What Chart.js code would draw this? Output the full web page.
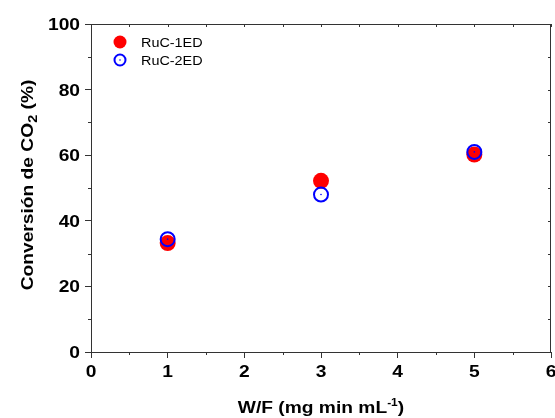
<!DOCTYPE html>
<html>
<head>
<meta charset="utf-8">
<title>Conversión de CO2 vs W/F</title>
<script src="https://cdn.jsdelivr.net/npm/chart.js@4.4.0/dist/chart.umd.min.js"></script>
<style>
    html, body { margin: 0; padding: 0; background: #fff; }
    canvas { display: block; }
</style>
</head>
<body>
<canvas id="wfChart" width="555" height="418"></canvas>
<script>
// values
const wfValues = [1, 3, 5];
const ruc1edValues = [33.2, 52.2, 60.2];
const ruc2edValues = [34.4, 48.0, 61.0];
const seriesNames = ['RuC-1ED', 'RuC-2ED'];
const xTickValues = [0, 1, 2, 3, 4, 5, 6];
const yTickValues = [0, 20, 40, 60, 80, 100];
const xMinorValues = [0.5, 1.5, 2.5, 3.5, 4.5, 5.5];
const yMinorValues = [10, 30, 50, 70, 90];

const FONT = '"Liberation Sans", Arial, Helvetica, sans-serif';
const AXIS_COLOR = '#333';
const STRETCH = 1.2; // the original lettering is wider than plain Arial

// draw text stretched along its own baseline
function drawText(ctx, text, x, y, align, font) {
    ctx.save();
    ctx.font = font;
    ctx.textAlign = align;
    ctx.textBaseline = 'alphabetic';
    ctx.translate(x, y);
    ctx.scale(STRETCH, 1);
    ctx.fillText(text, 0, 0);
    ctx.restore();
}

// draw a list of [text, font, yOffset] pieces centered on 0 (already translated)
function drawPieces(ctx, pieces) {
    let total = 0;
    pieces.forEach(p => { ctx.font = p[1]; total += ctx.measureText(p[0]).width; });
    let cx = -total / 2;
    ctx.textAlign = 'left';
    ctx.textBaseline = 'alphabetic';
    pieces.forEach(p => {
        ctx.font = p[1];
        ctx.fillText(p[0], cx, p[2]);
        cx += ctx.measureText(p[0]).width;
    });
}

const axisDecor = {
    id: 'axisDecor',
    afterDatasetsDraw(chart) {
        // small dot in the middle of the open circles
        const ctx = chart.ctx;
        const meta = chart.getDatasetMeta(1);
        ctx.save();
        ctx.fillStyle = chart.data.datasets[1].borderColor;
        meta.data.forEach(pt => {
            ctx.beginPath();
            ctx.arc(pt.x, pt.y, 0.8, 0, Math.PI * 2);
            ctx.fill();
        });
        ctx.restore();
    },
    afterDraw(chart) {
        const ctx = chart.ctx;
        const area = chart.chartArea;
        const xs = chart.scales.x;
        const ys = chart.scales.y;

        ctx.save();
        ctx.strokeStyle = AXIS_COLOR;
        ctx.lineWidth = 1;

        // top and right frame lines
        ctx.beginPath();
        ctx.moveTo(area.left, area.top + 0.5);
        ctx.lineTo(area.right, area.top + 0.5);
        ctx.moveTo(area.right - 0.5, area.top);
        ctx.lineTo(area.right - 0.5, area.bottom);
        ctx.stroke();

        // minor ticks outside, mirror ticks inside
        ctx.beginPath();
        xMinorValues.forEach(v => {
            const px = Math.round(xs.getPixelForValue(v)) + 0.5;
            ctx.moveTo(px, area.bottom);
            ctx.lineTo(px, area.bottom + 3);
        });
        xMinorValues.concat(xTickValues).forEach(v => {
            const px = Math.round(xs.getPixelForValue(v)) + 0.5;
            ctx.moveTo(px, area.top);
            ctx.lineTo(px, area.top + 3);
        });
        yMinorValues.forEach(v => {
            const py = Math.round(ys.getPixelForValue(v)) + 0.5;
            ctx.moveTo(area.left, py);
            ctx.lineTo(area.left - 3, py);
        });
        yMinorValues.concat(yTickValues).forEach(v => {
            const py = Math.round(ys.getPixelForValue(v)) + 0.5;
            ctx.moveTo(area.right, py);
            ctx.lineTo(area.right - 3, py);
        });
        ctx.stroke();

        // tick labels
        ctx.fillStyle = '#000';
        const tickFont = 'bold 16px ' + FONT;
        xTickValues.forEach(v => {
            drawText(ctx, String(v), xs.getPixelForValue(v), area.bottom + 25, 'center', tickFont);
        });
        yTickValues.forEach(v => {
            drawText(ctx, String(v), area.left - 11, ys.getPixelForValue(v) + 6, 'right', tickFont);
        });

        // x title with superscript
        ctx.save();
        ctx.translate((area.left + area.right) / 2, 413);
        ctx.scale(STRETCH, 1);
        drawPieces(ctx, [
            ['W/F (mg min mL', 'bold 16px ' + FONT, 0],
            ['-1', 'bold 10px ' + FONT, -7],
            [')', 'bold 16px ' + FONT, 0]
        ]);
        ctx.restore();

        // y title with subscript
        ctx.save();
        ctx.translate(33, (area.top + area.bottom) / 2 - 3);
        ctx.rotate(-Math.PI / 2);
        ctx.scale(STRETCH, 1);
        drawPieces(ctx, [
            ['Conversión de CO', 'bold 16px ' + FONT, 0],
            ['2', 'bold 12px ' + FONT, 4],
            [' (%)', 'bold 16px ' + FONT, 0]
        ]);
        ctx.restore();

        // legend
        const legendFont = '12px ' + FONT;
        chart.data.datasets.forEach((ds, i) => {
            const ly = 42 + i * 18;
            ctx.beginPath();
            if (ds.borderWidth > 0) {
                ctx.strokeStyle = ds.borderColor;
                ctx.lineWidth = 2;
                ctx.arc(120, ly, 5.5, 0, Math.PI * 2);
                ctx.stroke();
                ctx.fillStyle = ds.borderColor;
                ctx.beginPath();
                ctx.arc(120, ly, 0.8, 0, Math.PI * 2);
                ctx.fill();
            } else {
                ctx.fillStyle = ds.backgroundColor;
                ctx.arc(120, ly, 6.5, 0, Math.PI * 2);
                ctx.fill();
            }
            ctx.fillStyle = '#000';
            drawText(ctx, ds.label, 141, ly + 4.5, 'left', legendFont);
        });
        ctx.restore();
    }
};

const ctx = document.getElementById('wfChart').getContext('2d');
const wfChart = new Chart(ctx, {
    type: 'scatter',
    data: {
        datasets: [
            {
                label: seriesNames[0],
                data: wfValues.map((x, i) => ({ x: x, y: ruc1edValues[i] })),
                backgroundColor: '#ff0000',
                borderColor: '#ff0000',
                borderWidth: 0,
                pointRadius: 8,
                order: 2
            },
            {
                label: seriesNames[1],
                data: wfValues.map((x, i) => ({ x: x, y: ruc2edValues[i] })),
                backgroundColor: 'rgba(0,0,0,0)',
                borderColor: '#0000ff',
                borderWidth: 2,
                pointRadius: 7,
                order: 1
            }
        ]
    },
    options: {
        responsive: false,
        animation: false,
        devicePixelRatio: 1,
        events: [],
        layout: { autoPadding: false, padding: { top: 24, right: 4, left: 0, bottom: 0 } },
        plugins: {
            legend: { display: false },
            tooltip: { enabled: false }
        },
        scales: {
            x: {
                type: 'linear',
                min: 0,
                max: 6,
                ticks: { stepSize: 1, display: false },
                grid: { drawOnChartArea: false, drawTicks: true, tickLength: 6, color: AXIS_COLOR },
                border: { display: true, color: AXIS_COLOR, width: 1 },
                afterFit: scale => { scale.height = 66; scale.paddingLeft = 0; scale.paddingRight = 0; }
            },
            y: {
                min: 0,
                max: 100,
                ticks: { stepSize: 20, display: false },
                grid: { drawOnChartArea: false, drawTicks: true, tickLength: 6, color: AXIS_COLOR },
                border: { display: true, color: AXIS_COLOR, width: 1 },
                afterFit: scale => { scale.width = 91; scale.paddingTop = 0; scale.paddingBottom = 0; }
            }
        }
    },
    plugins: [axisDecor]
});
</script>
</body>
</html>
